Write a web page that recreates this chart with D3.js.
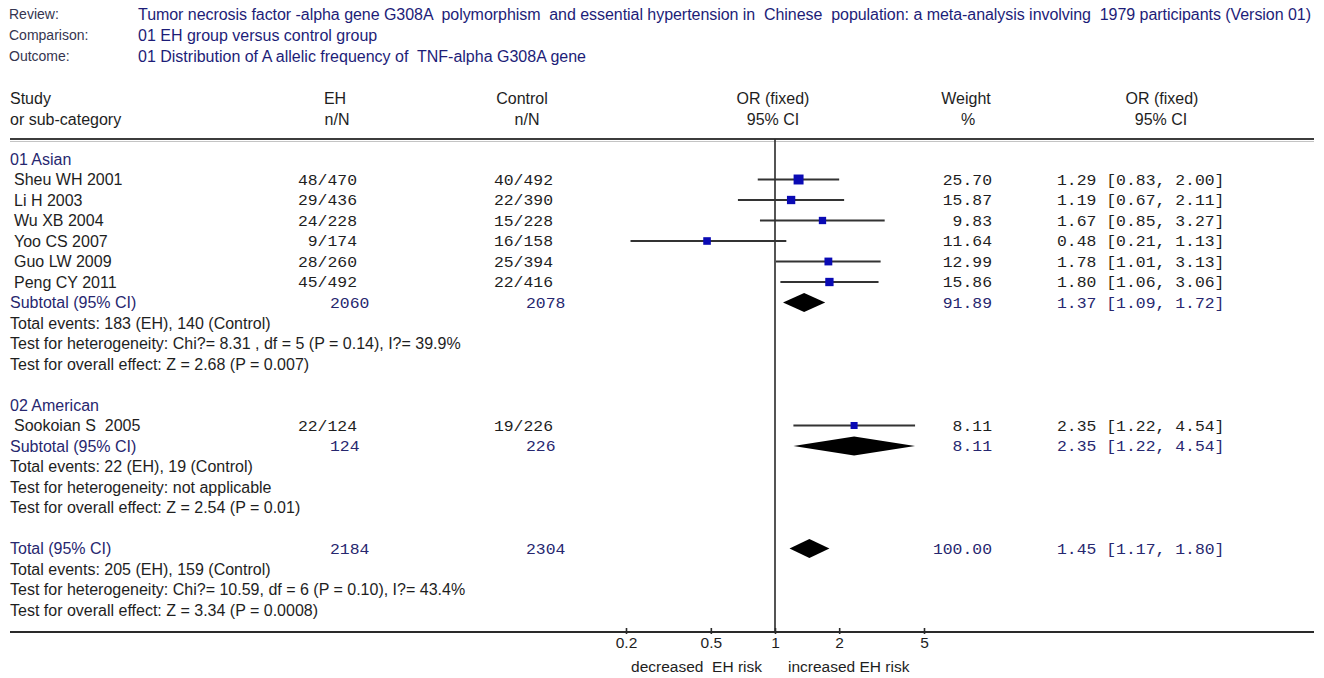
<!DOCTYPE html>
<html>
<head>
<meta charset="utf-8">
<script src="https://cdn.jsdelivr.net/npm/d3@7"></script>
<style>
  html, body { margin: 0; padding: 0; background: #fff; }
  svg text { white-space: pre; }
</style>
</head>
<body>
<div id="chart"></div>
<script>
// header block
const metaLabels = ['Review:', 'Comparison:', 'Outcome:'];
const metaValues = [
  'Tumor necrosis factor -alpha gene G308A  polymorphism  and essential hypertension in  Chinese  population: a meta-analysis involving  1979 participants (Version 01)',
  '01 EH group versus control group',
  '01 Distribution of A allelic frequency of  TNF-alpha G308A gene',
];

// studies
const studies = ['Sheu WH 2001', 'Li H 2003', 'Wu XB 2004', 'Yoo CS 2007', 'Guo LW 2009', 'Peng CY 2011', 'Sookoian S  2005'];
const studyGroup = [0, 0, 0, 0, 0, 0, 1];
const ehEvents = [48, 29, 24, 9, 28, 45, 22];
const ehTotal = [470, 436, 228, 174, 260, 492, 124];
const ctlEvents = [40, 22, 15, 16, 25, 22, 19];
const ctlTotal = [492, 390, 228, 158, 394, 416, 226];
const weights = [25.70, 15.87, 9.83, 11.64, 12.99, 15.86, 8.11];
const orEst = [1.29, 1.19, 1.67, 0.48, 1.78, 1.80, 2.35];
const ciLow = [0.83, 0.67, 0.85, 0.21, 1.01, 1.06, 1.22];
const ciHigh = [2.00, 2.11, 3.27, 1.13, 3.13, 3.06, 4.54];

// subgroups
const subgroups = ['01 Asian', '02 American'];
const subEhTotal = [2060, 124];
const subCtlTotal = [2078, 226];
const subWeight = [91.89, 8.11];
const subOr = [1.37, 2.35];
const subLow = [1.09, 1.22];
const subHigh = [1.72, 4.54];
const subStats = [
  ['Total events: 183 (EH), 140 (Control)',
    'Test for heterogeneity: Chi?= 8.31 , df = 5 (P = 0.14), I?= 39.9%',
    'Test for overall effect: Z = 2.68 (P = 0.007)'],
  ['Total events: 22 (EH), 19 (Control)',
    'Test for heterogeneity: not applicable',
    'Test for overall effect: Z = 2.54 (P = 0.01)'],
];

// overall
const totalEh = 2184;
const totalCtl = 2304;
const totalWeight = 100.00;
const totalOr = 1.45;
const totalLow = 1.17;
const totalHigh = 1.80;
const totalStats = [
  'Total events: 205 (EH), 159 (Control)',
  'Test for heterogeneity: Chi?= 10.59, df = 6 (P = 0.10), I?= 43.4%',
  'Test for overall effect: Z = 3.34 (P = 0.0008)',
];

// axis
const tickValues = [0.2, 0.5, 1, 2, 5];
const favourLeft = 'decreased  EH risk';
const favourRight = 'increased EH risk';

const W = 1324;
const H = 678;
const SANS = '"Liberation Sans", Arial, sans-serif';
const MONO = '"Liberation Mono", "Courier New", monospace';
const NAVY = '#27276f';
const INK = '#1e1e1e';
const CW = 9.85; // monospace char advance

// build row list
const rows = [];
subgroups.forEach((g, gi) => {
  rows.push({ type: 'group', label: g });
  studies.forEach((s, i) => {
    if (studyGroup[i] === gi) rows.push({ type: 'study', i });
  });
  rows.push({
    type: 'sub', label: 'Subtotal (95% CI)', eh: subEhTotal[gi], ctl: subCtlTotal[gi],
    w: subWeight[gi], or: subOr[gi], lo: subLow[gi], hi: subHigh[gi],
  });
  subStats[gi].forEach(t => rows.push({ type: 'stat', label: t }));
  rows.push({ type: 'blank' });
});
rows.push({
  type: 'sub', label: 'Total (95% CI)', eh: totalEh, ctl: totalCtl,
  w: totalWeight, or: totalOr, lo: totalLow, hi: totalHigh,
});
totalStats.forEach(t => rows.push({ type: 'stat', label: t }));

const y = d3.scaleLinear().domain([0, rows.length - 1]).range([159, 159 + 20.5 * (rows.length - 1)]);
const x = d3.scaleLog().domain([0.2, 5]).range([626, 924]);
const boxSize = d3.scaleLinear().domain([8, 26]).range([7, 10]);

const svg = d3.select('#chart').append('svg')
  .attr('width', W)
  .attr('height', H);

function sans(xp, yp, txt, opts = {}) {
  return svg.append('text')
    .attr('x', xp)
    .attr('y', yp)
    .attr('dy', '0.35em')
    .attr('font-family', SANS)
    .attr('font-size', opts.size || 16)
    .attr('fill', opts.fill || INK)
    .attr('text-anchor', opts.anchor || 'start')
    .text(txt);
}

// monospace text, stretched to the wide look of the original
function mono(left, yp, txt, fill) {
  return svg.append('text')
    .attr('x', left)
    .attr('y', yp)
    .attr('dy', '0.35em')
    .attr('font-family', MONO)
    .attr('font-size', 15)
    .attr('fill', fill || INK)
    .attr('textLength', txt.length * CW)
    .attr('lengthAdjust', 'spacingAndGlyphs')
    .text(txt);
}
const monoRight = (right, yp, txt, fill) => mono(right - txt.length * CW, yp, txt, fill);

const fmt2 = d3.format('.2f');
const ciText = (o, l, h) => `${fmt2(o)} [${fmt2(l)}, ${fmt2(h)}]`;

// meta header
metaLabels.forEach((m, i) => {
  sans(9, 14 + 21 * i, m, { fill: '#35354f', size: 14 });
  const t = sans(138, 14 + 21 * i, metaValues[i], { fill: '#1d1d78' });
  if (i === 0) t.attr('textLength', 1173).attr('lengthAdjust', 'spacing');
});

// column headers
sans(10, 98, 'Study');
sans(10, 119, 'or sub-category');
sans(335, 98, 'EH', { anchor: 'middle' });
sans(337, 119, 'n/N', { anchor: 'middle' });
sans(522, 98, 'Control', { anchor: 'middle' });
sans(527, 119, 'n/N', { anchor: 'middle' });
sans(773, 98, 'OR (fixed)', { anchor: 'middle' });
sans(773, 119, '95% CI', { anchor: 'middle' });
sans(966, 98, 'Weight', { anchor: 'middle' });
sans(968, 119, '%', { anchor: 'middle' });
sans(1162, 98, 'OR (fixed)', { anchor: 'middle' });
sans(1161, 119, '95% CI', { anchor: 'middle' });

// header rule
svg.append('line').attr('x1', 10).attr('x2', 1314).attr('y1', 139).attr('y2', 139)
  .attr('stroke', '#3c3c3c').attr('stroke-width', 2);
svg.append('line').attr('x1', 10).attr('x2', 1314).attr('y1', 141.5).attr('y2', 141.5)
  .attr('stroke', '#c4c4c4').attr('stroke-width', 1);

// no-effect line
const axisY = 632;
svg.append('line').attr('x1', x(1)).attr('x2', x(1)).attr('y1', 139).attr('y2', axisY)
  .attr('stroke', '#2a2a2a').attr('stroke-width', 1.6);

// rows
rows.forEach((r, ri) => {
  const yy = y(ri);
  if (r.type === 'group') {
    sans(10, yy, r.label, { fill: NAVY });
  } else if (r.type === 'study') {
    const i = r.i;
    sans(14, yy, studies[i]);
    monoRight(357, yy, `${ehEvents[i]}/${ehTotal[i]}`);
    monoRight(553, yy, `${ctlEvents[i]}/${ctlTotal[i]}`);
    monoRight(992, yy, fmt2(weights[i]));
    mono(1057, yy, ciText(orEst[i], ciLow[i], ciHigh[i]));
    svg.append('line')
      .attr('x1', x(ciLow[i])).attr('x2', x(ciHigh[i]))
      .attr('y1', yy).attr('y2', yy)
      .attr('stroke', '#333').attr('stroke-width', 1.8);
    const s = boxSize(weights[i]);
    svg.append('rect')
      .attr('x', x(orEst[i]) - s / 2).attr('y', yy - s / 2)
      .attr('width', s).attr('height', s)
      .attr('fill', '#0a0ab4');
  } else if (r.type === 'sub') {
    sans(10, yy, r.label, { fill: NAVY });
    mono(330, yy, String(r.eh), NAVY);
    mono(526, yy, String(r.ctl), NAVY);
    monoRight(992, yy, fmt2(r.w), NAVY);
    mono(1057, yy, ciText(r.or, r.lo, r.hi), NAVY);
    const hh = 9.5;
    svg.append('polygon')
      .attr('points', [
        [x(r.lo), yy], [x(r.or), yy - hh], [x(r.hi), yy], [x(r.or), yy + hh],
      ].map(p => p.join(',')).join(' '))
      .attr('fill', '#000');
  } else if (r.type === 'stat') {
    sans(10, yy, r.label);
  }
});

// bottom axis
svg.append('line').attr('x1', 10).attr('x2', 1314).attr('y1', axisY).attr('y2', axisY)
  .attr('stroke', '#2a2a2a').attr('stroke-width', 1.8);

const axis = d3.axisBottom(x)
  .tickValues(tickValues)
  .tickFormat(d3.format('~g'))
  .tickSize(0)
  .tickPadding(0);

const gAxis = svg.append('g')
  .attr('transform', `translate(0,${axisY})`)
  .call(axis);
gAxis.select('.domain').remove();
gAxis.selectAll('.tick line').remove();
gAxis.selectAll('.tick').append('line')
  .attr('y1', -4).attr('y2', 2)
  .attr('stroke', '#2a2a2a').attr('stroke-width', 1.6);
gAxis.selectAll('.tick text')
  .attr('y', 11)
  .attr('dy', '0.35em')
  .attr('font-family', SANS)
  .attr('font-size', 15.5)
  .attr('fill', INK);

sans(762, 667, favourLeft, { anchor: 'end', size: 15.5 });
sans(788, 667, favourRight, { size: 15.5 });
</script>
</body>
</html>
